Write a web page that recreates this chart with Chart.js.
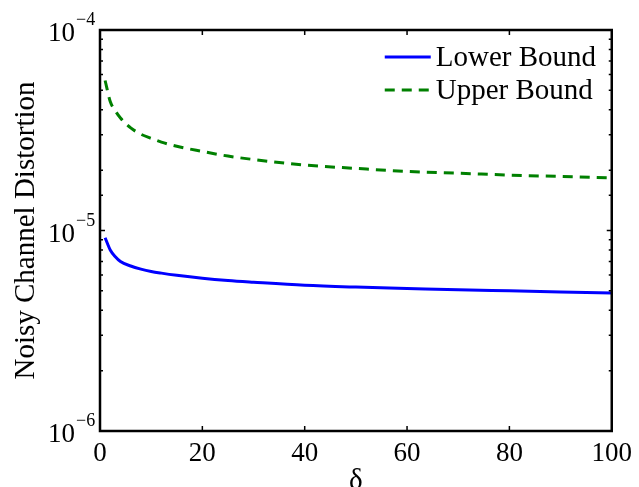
<!DOCTYPE html>
<html>
<head>
<meta charset="utf-8">
<script src="https://cdn.jsdelivr.net/npm/chart.js@4"></script>
<style>
  html, body { margin: 0; padding: 0; background: #fff; }
  canvas { display: block; }
</style>
</head>
<body>
<canvas id="grafico" width="639" height="487"></canvas>
<script>
// valores
const delta      = [1, 2, 3, 4, 6, 8, 10, 12, 15, 20, 25, 30, 40, 50, 60, 70, 80, 90, 100];
const lowerBound = [9.2e-6, 8.0e-6, 7.4e-6, 7.0e-6, 6.65e-6, 6.42e-6, 6.25e-6, 6.13e-6, 5.98e-6, 5.78e-6,
                    5.63e-6, 5.52e-6, 5.33e-6, 5.22e-6, 5.14e-6, 5.06e-6, 5.0e-6, 4.94e-6, 4.88e-6];
const upperBound = [5.6e-5, 4.4e-5, 3.95e-5, 3.64e-5, 3.25e-5, 3.02e-5, 2.88e-5, 2.76e-5, 2.63e-5, 2.48e-5,
                    2.35e-5, 2.26e-5, 2.12e-5, 2.04e-5, 1.97e-5, 1.93e-5, 1.89e-5, 1.86e-5, 1.83e-5];
const xTicks     = [0, 20, 40, 60, 80, 100];
const yDecades   = [-6, -5, -4];

const FONTE = '"Liberation Serif", "Times New Roman", serif';

const pares = arr => delta.map((d, i) => ({ x: d, y: arr[i] }));

// moldura, ticks para dentro, rótulos 10^n e legenda
const estiloMatlab = {
  id: 'estiloMatlab',
  afterDatasetsDraw(chart) {
    const { ctx, chartArea: a, scales: { x, y } } = chart;
    ctx.save();
    ctx.strokeStyle = '#000';
    ctx.lineWidth = 1.5;
    ctx.beginPath();
    xTicks.forEach(v => {
      const px = x.getPixelForValue(v);
      ctx.moveTo(px, a.bottom); ctx.lineTo(px, a.bottom - 5);
      ctx.moveTo(px, a.top);    ctx.lineTo(px, a.top + 5);
    });
    y.ticks.forEach(t => {
      const py = y.getPixelForValue(t.value);
      const lg = Math.log10(t.value);
      const len = Math.abs(lg - Math.round(lg)) < 1e-6 ? 5 : 3;
      ctx.moveTo(a.left, py);  ctx.lineTo(a.left + len, py);
      ctx.moveTo(a.right, py); ctx.lineTo(a.right - len, py);
    });
    ctx.stroke();

    ctx.lineWidth = 2.5;
    ctx.strokeRect(a.left, a.top, a.right - a.left, a.bottom - a.top);

    // rótulos do eixo y
    ctx.fillStyle = '#000';
    ctx.textBaseline = 'alphabetic';
    yDecades.forEach(e => {
      const py = y.getPixelForValue(Math.pow(10, e));
      ctx.font = '27px ' + FONTE;
      ctx.textAlign = 'right';
      ctx.fillText('10', a.left - 25, py + 11);
      ctx.font = '18px ' + FONTE;
      ctx.textAlign = 'left';
      ctx.fillText('\u2212' + Math.abs(e), a.left - 24, py - 5);
    });

    // legenda
    const lx = a.right - 227;
    chart.data.datasets.forEach((ds, i) => {
      const ly = a.top + 27 + i * 33;
      ctx.strokeStyle = ds.borderColor;
      ctx.lineWidth = ds.borderWidth;
      ctx.setLineDash(ds.borderDash || []);
      ctx.beginPath();
      ctx.moveTo(lx, ly); ctx.lineTo(lx + 46, ly);
      ctx.stroke();
      ctx.setLineDash([]);
      ctx.font = '29px ' + FONTE;
      ctx.textAlign = 'left';
      ctx.textBaseline = 'middle';
      ctx.fillText(ds.label, lx + 51, ly + 1);
    });
    ctx.restore();
  }
};

new Chart(document.getElementById('grafico'), {
  type: 'line',
  data: {
    datasets: [
      {
        label: 'Lower Bound',
        data: pares(lowerBound),
        borderColor: '#0000ff',
        borderWidth: 3,
        pointRadius: 0,
        cubicInterpolationMode: 'monotone',
        fill: false
      },
      {
        label: 'Upper Bound',
        data: pares(upperBound),
        borderColor: '#008000',
        borderWidth: 3,
        borderDash: [10, 7],
        pointRadius: 0,
        cubicInterpolationMode: 'monotone',
        fill: false
      }
    ]
  },
  plugins: [estiloMatlab],
  options: {
    responsive: false,
    animation: false,
    devicePixelRatio: 1,
    layout: { padding: { top: 30, right: 25, left: 0, bottom: 0 } },
    plugins: { legend: { display: false }, tooltip: { enabled: false } },
    scales: {
      x: {
        type: 'linear',
        min: 0,
        max: 100,
        afterBuildTicks: s => { s.ticks = xTicks.map(v => ({ value: v })); },
        afterFit: s => { s.height = 56; },
        grid: { display: false, drawTicks: false },
        border: { display: false },
        ticks: { color: '#000', font: { family: FONTE, size: 27 }, padding: 7, maxRotation: 0 },
        title: { display: true, text: '\u03b4', color: '#000', font: { family: FONTE, size: 29 }, padding: { top: 0, bottom: -12 } }
      },
      y: {
        type: 'logarithmic',
        min: 1e-6,
        max: 1e-4,
        afterFit: s => { s.width = 100; },
        grid: { display: false },
        border: { display: false },
        ticks: { display: false },
        title: { display: true, text: 'Noisy Channel Distortion', color: '#000', font: { family: FONTE, size: 29 }, padding: { top: 9, bottom: 0 } }
      }
    }
  }
});
</script>
</body>
</html>
